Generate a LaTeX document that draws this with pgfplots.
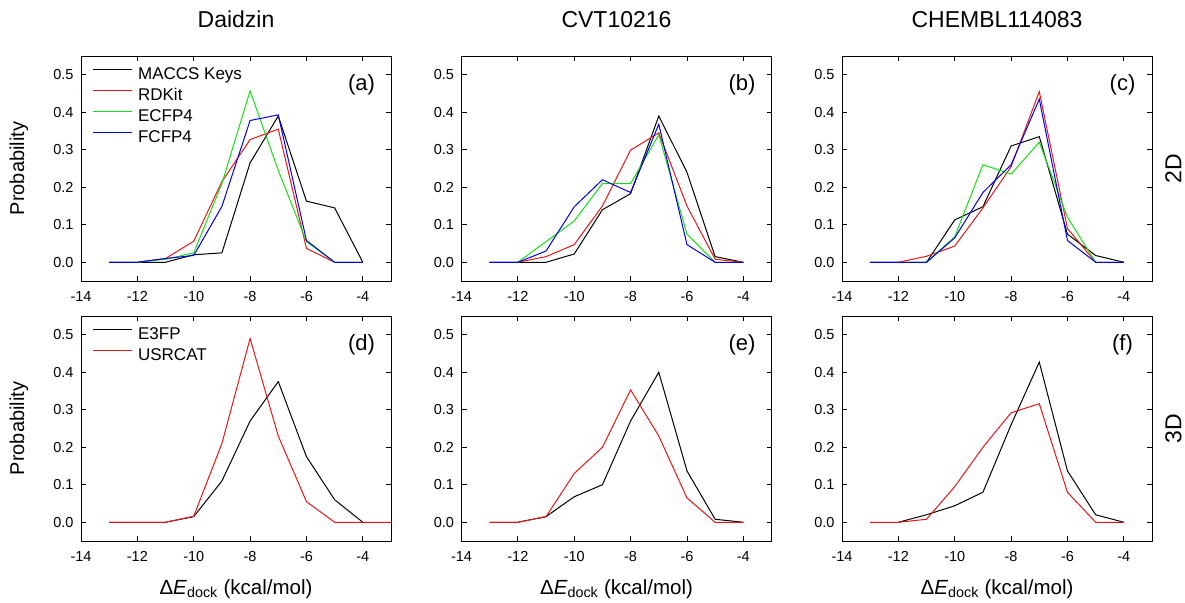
\documentclass[border=0pt]{standalone}
\usepackage{fontspec}
\setmainfont{Liberation Sans}
\usepackage{pgfplots}
\pgfplotsset{compat=1.18}
\definecolor{cred}{RGB}{235,20,20}
\definecolor{cgreen}{RGB}{20,225,20}
\definecolor{cblue}{RGB}{0,0,235}
\newcommand\fs[1]{\fontsize{#1}{#1}\selectfont}

\pgfplotsset{
  panel/.style={
    scale only axis, width=310pt, height=225pt, clip=false,
    xmin=-14, xmax=-3, ymin=-0.05, ymax=0.55,
    xtick={-14,-12,-10,-8,-6,-4}, ytick={0,0.1,0.2,0.3,0.4,0.5},
    tick align=inside, major tick length=5pt,
    xtick pos=both, ytick pos=both,
    xticklabel pos=lower, yticklabel pos=left,
    tick style={black, line width=0.8pt},
    axis line style={line width=0.9pt},
    /pgf/number format/assume math mode=true,
    ticklabel style={font=\fs{14.5}},
    yticklabel style={xshift=-4pt},
    y tick label style={/pgf/number format/fixed, /pgf/number format/fixed zerofill, /pgf/number format/precision=1},
    xticklabel style={yshift=-6.5pt},
    title style={font=\fs{23}, at={(axis description cs:0.5,1)}, anchor=base, yshift=22pt},
    ylabel style={font=\fs{20}, at={(axis description cs:-0.2,0.5)}, anchor=center},
    xlabel style={font=\fs{20.5}, at={(axis description cs:0.5,0)}, anchor=base, yshift=-53pt},
    every axis plot/.append style={line width=1pt, mark=none},
    legend style={at={(axis description cs:0,1)}, anchor=north west,
      xshift=11.3pt, yshift=-10.9pt, draw=none, fill=none, inner sep=0pt,
      font=\fs{17}, row sep=5.1pt, column sep=5.6pt,
      nodes={inner sep=0pt, text height=12.5pt, text depth=3.5pt},
      cells={anchor=west}},
    legend image code/.code={\draw[#1] (0pt,6.1pt) -- (39pt,6.1pt);},
  },
}
\tikzset{
  plab/.style={font=\fs{22}, anchor=center, xshift=-29.5pt, yshift=-29pt},
  rowlab/.style={font=\fs{23}, rotate=90, anchor=center, inner sep=0pt,
    text height=16.5pt, text depth=0pt},
}

\begin{document}
\begin{tikzpicture}
\useasboundingbox (0,0) rectangle (1185pt,-602pt);

% (a) Daidzin, 2D
\begin{axis}[panel, at={(81pt,-281pt)}, anchor=south west,
  title={Daidzin}, ylabel={Probability}]
\addplot[black] coordinates {(-13,0)(-12,0)(-11,0)(-10,0.02)(-9,0.025)(-8,0.265)(-7,0.39)(-6,0.163)(-5,0.145)(-4,0)};
\addplot[cred] coordinates {(-13,0)(-12,0)(-11,0.01)(-10,0.056)(-9,0.215)(-8,0.327)(-7,0.355)(-6,0.037)(-5,0)(-4,0)};
\addplot[cgreen] coordinates {(-13,0)(-12,0)(-11,0.008)(-10,0.025)(-9,0.21)(-8,0.457)(-7,0.245)(-6,0.055)(-5,0)(-4,0)};
\addplot[cblue] coordinates {(-13,0)(-12,0)(-11,0.01)(-10,0.018)(-9,0.149)(-8,0.378)(-7,0.393)(-6,0.058)(-5,0)(-4,0)};
\legend{MACCS Keys, RDKit, ECFP4, FCFP4}
\node[plab] at (rel axis cs:1,1) {(a)};
\end{axis}

% (b) CVT10216, 2D
\begin{axis}[panel, at={(461.5pt,-281pt)}, anchor=south west,
  title={CVT10216}]
\addplot[black] coordinates {(-13,0)(-12,0)(-11,0)(-10,0.022)(-9,0.14)(-8,0.183)(-7,0.39)(-6,0.24)(-5,0.015)(-4,0)};
\addplot[cred] coordinates {(-13,0)(-12,0)(-11,0.015)(-10,0.047)(-9,0.15)(-8,0.299)(-7,0.345)(-6,0.15)(-5,0.008)(-4,0)};
\addplot[cgreen] coordinates {(-13,0)(-12,0)(-11,0.055)(-10,0.11)(-9,0.21)(-8,0.21)(-7,0.34)(-6,0.075)(-5,0)(-4,0)};
\addplot[cblue] coordinates {(-13,0)(-12,0)(-11,0.03)(-10,0.148)(-9,0.22)(-8,0.186)(-7,0.368)(-6,0.047)(-5,0)(-4,0)};
\node[plab] at (rel axis cs:1,1) {(b)};
\end{axis}

% (c) CHEMBL114083, 2D
\begin{axis}[panel, at={(842pt,-281pt)}, anchor=south west,
  title={CHEMBL114083}]
\addplot[black] coordinates {(-13,0)(-12,0)(-11,0)(-10,0.113)(-9,0.148)(-8,0.31)(-7,0.335)(-6,0.075)(-5,0.018)(-4,0)};
\addplot[cred] coordinates {(-13,0)(-12,0)(-11,0.016)(-10,0.043)(-9,0.145)(-8,0.255)(-7,0.455)(-6,0.09)(-5,0)(-4,0)};
\addplot[cgreen] coordinates {(-13,0)(-12,0)(-11,0)(-10,0.068)(-9,0.26)(-8,0.235)(-7,0.32)(-6,0.12)(-5,0)(-4,0)};
\addplot[cblue] coordinates {(-13,0)(-12,0)(-11,0)(-10,0.065)(-9,0.186)(-8,0.26)(-7,0.435)(-6,0.058)(-5,0)(-4,0)};
\node[plab] at (rel axis cs:1,1) {(c)};
\node[rowlab] at (rel axis cs:1.068,0.5) {2D};
\end{axis}

% (d) Daidzin, 3D
\begin{axis}[panel, at={(81pt,-541pt)}, anchor=south west,
  ylabel={Probability}, xlabel={Δ\textit{E}\textsubscript{dock} (kcal/mol)}]
\addplot[black] coordinates {(-13,0)(-12,0)(-11,0)(-10,0.015)(-9,0.11)(-8,0.27)(-7,0.375)(-6,0.175)(-5,0.06)(-4,0)};
\addplot[cred] coordinates {(-13,0)(-12,0)(-11,0)(-10,0.016)(-9,0.21)(-8,0.49)(-7,0.23)(-6,0.055)(-5,0)(-4,0)(-3,0)};
\legend{E3FP, USRCAT}
\node[plab] at (rel axis cs:1,1) {(d)};
\end{axis}

% (e) CVT10216, 3D
\begin{axis}[panel, at={(461.5pt,-541pt)}, anchor=south west,
  xlabel={Δ\textit{E}\textsubscript{dock} (kcal/mol)}]
\addplot[black] coordinates {(-13,0)(-12,0)(-11,0.015)(-10,0.068)(-9,0.1)(-8,0.27)(-7,0.4)(-6,0.137)(-5,0.008)(-4,0)};
\addplot[cred] coordinates {(-13,0)(-12,0)(-11,0.015)(-10,0.13)(-9,0.2)(-8,0.353)(-7,0.23)(-6,0.065)(-5,0)(-4,0)};
\node[plab] at (rel axis cs:1,1) {(e)};
\end{axis}

% (f) CHEMBL114083, 3D
\begin{axis}[panel, at={(842pt,-541pt)}, anchor=south west,
  xlabel={Δ\textit{E}\textsubscript{dock} (kcal/mol)}]
\addplot[black] coordinates {(-12,0)(-11,0.02)(-10,0.044)(-9,0.08)(-8,0.26)(-7,0.427)(-6,0.137)(-5,0.02)(-4,0)};
\addplot[cred] coordinates {(-13,0)(-12,0)(-11,0.008)(-10,0.095)(-9,0.2)(-8,0.292)(-7,0.316)(-6,0.08)(-5,0)(-4,0)};
\node[plab] at (rel axis cs:1,1) {(f)};
\node[rowlab] at (rel axis cs:1.068,0.5) {3D};
\end{axis}
\end{tikzpicture}
\end{document}
